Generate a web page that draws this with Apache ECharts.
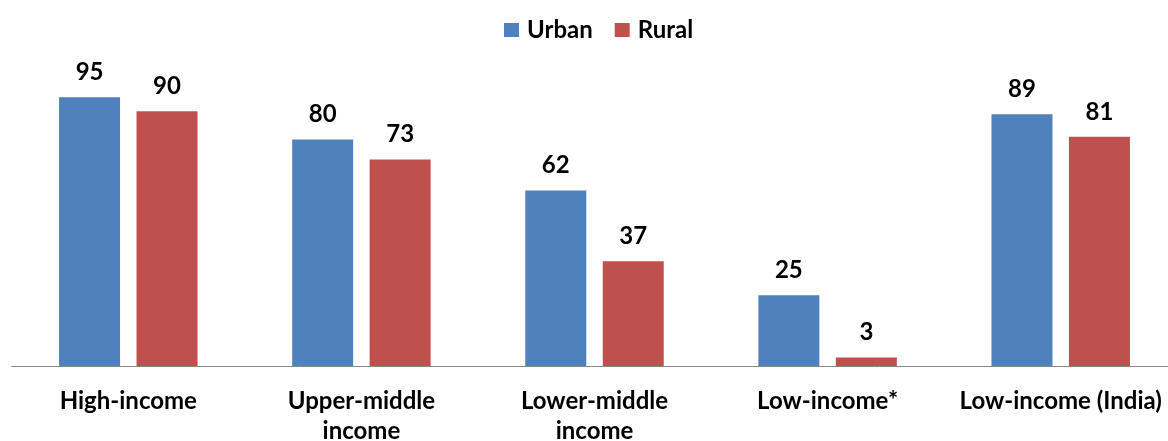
<!DOCTYPE html>
<html>
<head>
<meta charset="utf-8">
<script src="https://cdn.jsdelivr.net/npm/echarts@6/dist/echarts.min.js"></script>
<style>
  html, body { margin: 0; padding: 0; background: #fff; }
  #chart { width: 1168px; height: 441px; }
</style>
</head>
<body>
<div id="chart"></div>
<script>
// Access share by income group, urban vs rural
const categories = ['High-income', 'Upper-middle\nincome', 'Lower-middle\nincome', 'Low-income*', 'Low-income (India)'];
const urban = [95, 80, 62, 25, 89];
const rural = [90, 73, 37, 3, 81];

const FONT = 'Lato';
const chart = echarts.init(document.getElementById('chart'), null, { renderer: 'canvas' });

const labelStyle = {
  show: true,
  position: 'top',
  distance: 13,
  color: '#000',
  fontFamily: FONT,
  fontWeight: 'bold',
  fontSize: 24
};

chart.setOption({
  animation: false,
  legend: {
    top: 13,
    left: 499,
    itemWidth: 15,
    itemHeight: 14,
    itemGap: 22,
    icon: 'rect',
    textStyle: { fontFamily: FONT, fontWeight: 'bold', fontSize: 24, color: '#000', padding: [0, 0, 0, 3] },
    data: ['Urban', 'Rural']
  },
  grid: { left: 11.75, top: 83, width: 1165.5, height: 283, containLabel: false, outerBoundsMode: 'none' },
  xAxis: {
    type: 'category',
    data: categories,
    axisLine: { lineStyle: { color: '#868686', width: 1 } },
    axisTick: { show: false },
    axisLabel: {
      interval: 0,
      margin: 20,
      color: '#000',
      fontFamily: FONT,
      fontWeight: 'bold',
      fontSize: 24,
      lineHeight: 30
    }
  },
  yAxis: {
    type: 'value',
    min: 0,
    max: 100,
    show: false,
    splitLine: { show: false }
  },
  series: [
    {
      name: 'Urban',
      type: 'bar',
      data: urban,
      barWidth: 61,
      barGap: '27%',
      itemStyle: { color: '#4F81BD' },
      label: labelStyle
    },
    {
      name: 'Rural',
      type: 'bar',
      data: rural,
      barWidth: 61,
      itemStyle: { color: '#C0504D' },
      label: labelStyle
    }
  ]
});
</script>
</body>
</html>
